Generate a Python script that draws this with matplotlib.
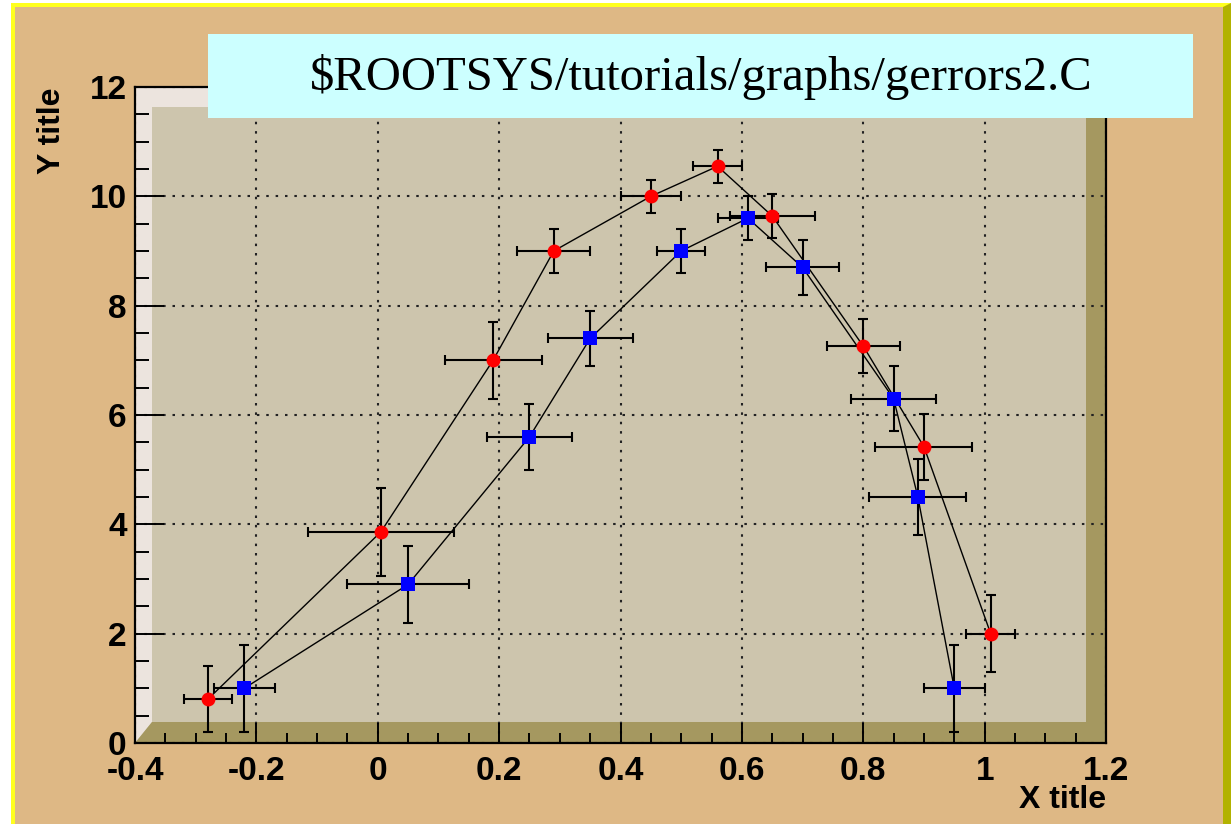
import matplotlib
matplotlib.use("Agg")
import matplotlib.pyplot as plt
from matplotlib.patches import Rectangle, Polygon

# graph 1 (blue squares)
x1 = [-0.22, 0.05, 0.25, 0.35, 0.50, 0.61, 0.70, 0.85, 0.89, 0.95]
y1 = [1.0, 2.9, 5.6, 7.4, 9.0, 9.6, 8.7, 6.3, 4.5, 1.0]
ex1 = [0.05, 0.10, 0.07, 0.07, 0.04, 0.05, 0.06, 0.07, 0.08, 0.05]
ey1 = [0.8, 0.7, 0.6, 0.5, 0.4, 0.4, 0.5, 0.6, 0.7, 0.8]

# graph 2 (red circles)
x2 = [-0.28, 0.005, 0.19, 0.29, 0.45, 0.56, 0.65, 0.80, 0.90, 1.01]
y2 = [0.8, 3.86, 7.0, 9.0, 10.0, 10.55, 9.64, 7.26, 5.42, 2.0]
ex2 = [0.04, 0.12, 0.08, 0.06, 0.05, 0.04, 0.07, 0.06, 0.08, 0.04]
ey2 = [0.6, 0.8, 0.7, 0.4, 0.3, 0.3, 0.4, 0.5, 0.6, 0.7]

xticks = [-0.4, -0.2, 0, 0.2, 0.4, 0.6, 0.8, 1.0, 1.2]
xticklabels = ["-0.4", "-0.2", "0", "0.2", "0.4", "0.6", "0.8", "1", "1.2"]
yticks = [0, 2, 4, 6, 8, 10, 12]
yticklabels = ["0", "2", "4", "6", "8", "10", "12"]

title_text = "$ROOTSYS/tutorials/graphs/gerrors2.C"

W, H = 1231, 824
fig = plt.figure(figsize=(W / 100, H / 100), dpi=100, facecolor="white")

# canvas background with bevel
bg = fig.add_axes([0, 0, 1, 1], zorder=-5)
bg.set_xlim(0, W)
bg.set_ylim(H, 0)
bg.axis("off")
bg.add_patch(Rectangle((11, 3), W, H, facecolor="#ffff1e", edgecolor="none"))
bg.add_patch(Polygon([(1223, 7), (1223, H), (W, H), (W, 3)], closed=True,
                     facecolor="#b2b200", edgecolor="none"))
bg.add_patch(Rectangle((15, 7), 1208, H, facecolor="#deb885", edgecolor="none"))

# main frame
L, R, T, B = 135, 1106, 87, 743
ax = fig.add_axes([L / W, (H - B) / H, (R - L) / W, (B - T) / H])
ax.set_facecolor("#cdc5ad")
ax.set_xlim(-0.4, 1.2)
ax.set_ylim(0, 12)

fl, fr = 17 / (R - L), 20 / (R - L)
ft, fb = 20 / (B - T), 21 / (B - T)
ax.add_patch(Polygon([(0, 0), (fl, fb), (fl, 1 - ft), (1 - fr, 1 - ft), (1, 1), (0, 1)],
                     closed=True, transform=ax.transAxes, facecolor="#ece4de",
                     edgecolor="none", zorder=0))
ax.add_patch(Polygon([(0, 0), (1, 0), (1, 1), (1 - fr, 1 - ft), (1 - fr, fb), (fl, fb)],
                     closed=True, transform=ax.transAxes, facecolor="#a59860",
                     edgecolor="none", zorder=0))

ax.grid(True, color="#222222", linestyle=(0, (1.2, 3.3)), linewidth=1.5, zorder=1)
ax.set_axisbelow(True)

for s in ax.spines.values():
    s.set_linewidth(1.6)
    s.set_zorder(6)

ax.set_xticks(xticks)
ax.set_xticklabels(xticklabels)
ax.set_yticks(yticks)
ax.set_yticklabels(yticklabels)
ax.set_xticks([v / 20 for v in range(-8, 25)], minor=True)
ax.set_yticks([v / 2 for v in range(0, 25)], minor=True)
ax.tick_params(axis="x", which="major", direction="in", length=14.4, width=1.4, pad=9,
               labelsize=24, top=False)
ax.tick_params(axis="x", which="minor", direction="in", length=7.2, width=1.4, top=False)
ax.tick_params(axis="y", which="major", direction="in", length=20.9, width=1.4, pad=6,
               labelsize=24, right=False)
ax.tick_params(axis="y", which="minor", direction="in", length=10.4, width=1.4, right=False)
for lab in ax.get_xticklabels() + ax.get_yticklabels():
    lab.set_fontfamily("Liberation Sans")
    lab.set_fontweight("bold")

# graphs
for xs, ys, exs, eys, mk, col in [(x1, y1, ex1, ey1, "s", "#0000ff"),
                                  (x2, y2, ex2, ey2, "o", "#ff0000")]:
    ax.plot(xs, ys, "-", color="black", linewidth=1.0, zorder=3, clip_on=False)
    ax.errorbar(xs, ys, xerr=exs, yerr=eys, fmt="none", ecolor="black",
                elinewidth=1.5, capsize=3.8, capthick=1.5, zorder=4, clip_on=False)
    ax.plot(xs, ys, mk, color=col, markersize=10, markeredgewidth=0, zorder=5,
            clip_on=False)

ax.text(1.0, -0.087, "X title", transform=ax.transAxes, ha="right", va="center",
        fontsize=23, fontweight="bold", family="Liberation Sans")
ax.text(-0.0856, 1.0, "Y title", transform=ax.transAxes, ha="center", va="top",
        rotation=90, fontsize=23, fontweight="bold", family="Liberation Sans")

# title box on top
ov = fig.add_axes([0, 0, 1, 1], zorder=10)
ov.set_xlim(0, W)
ov.set_ylim(H, 0)
ov.axis("off")
ov.patch.set_alpha(0)
ov.add_patch(Rectangle((208, 34), 985, 84, facecolor="#ccffff", edgecolor="none"))
ov.text(701, 77, title_text, ha="center", va="center", fontsize=35,
        family="Liberation Serif")

fig.savefig("out.png", dpi=100)
